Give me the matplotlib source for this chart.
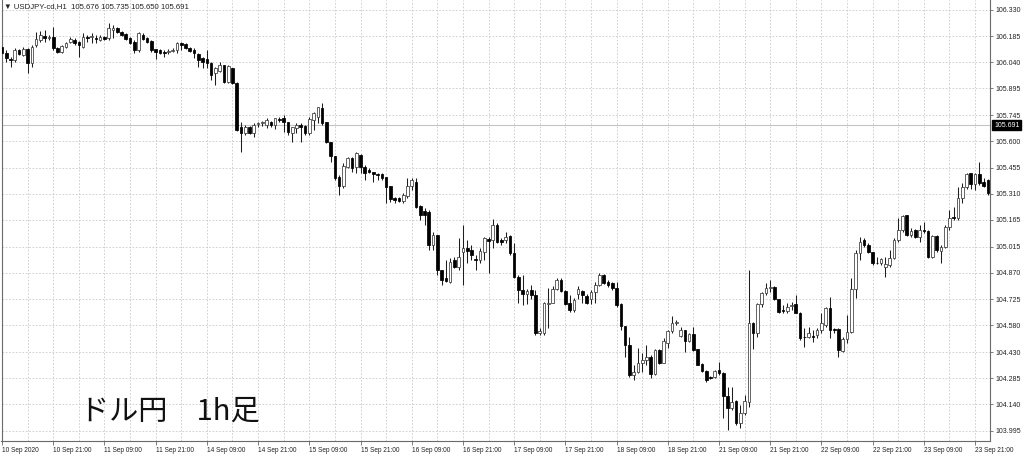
import matplotlib
matplotlib.use("Agg")
import matplotlib.pyplot as plt
import matplotlib.transforms as mtransforms

# ---------------- data (USDJPY H1) ----------------
opens = [
    106.124, 106.091, 106.058, 106.052, 106.108, 106.080, 106.113, 106.035, 106.135, 106.163,
    106.185, 106.174, 106.180, 106.119, 106.096, 106.124, 106.152, 106.163, 106.152, 106.124,
    106.180, 106.180, 106.174, 106.163, 106.180, 106.174, 106.219, 106.230, 106.207, 106.196,
    106.174, 106.152, 106.108, 106.191, 106.174, 106.157, 106.113, 106.108, 106.096, 106.096,
    106.102, 106.108, 106.146, 106.141, 106.119, 106.108, 106.085, 106.063, 106.058, 106.035,
    105.980, 105.991, 106.024, 105.930, 106.008, 105.924, 105.680, 105.647, 105.680, 105.647,
    105.697, 105.702, 105.691, 105.708, 105.691, 105.722, 105.730, 105.708, 105.647, 105.675,
    105.691, 105.686, 105.647, 105.719, 105.736, 105.786, 105.708, 105.597, 105.519, 105.403,
    105.353, 105.458, 105.508, 105.458, 105.525, 105.458, 105.442, 105.430, 105.419, 105.419,
    105.403, 105.353, 105.286, 105.286, 105.270, 105.297, 105.353, 105.375, 105.242, 105.214,
    105.208, 105.025, 105.081, 104.887, 104.842, 104.820, 104.942, 104.903, 104.986, 105.009,
    104.998, 104.948, 104.942, 104.986, 105.059, 105.053, 105.136, 105.053, 105.053, 105.075,
    104.981, 104.848, 104.774, 104.752, 104.774, 104.746, 104.537, 104.537, 104.698, 104.703,
    104.780, 104.831, 104.768, 104.702, 104.665, 104.752, 104.768, 104.741, 104.724, 104.763,
    104.803, 104.859, 104.820, 104.814, 104.787, 104.698, 104.576, 104.470, 104.304, 104.320,
    104.370, 104.387, 104.404, 104.309, 104.443, 104.370, 104.481, 104.548, 104.592, 104.520,
    104.554, 104.492, 104.531, 104.448, 104.365, 104.326, 104.293, 104.293, 104.332, 104.315,
    104.187, 104.121, 104.160, 104.037, 104.093, 104.154, 104.592, 104.537, 104.698, 104.757,
    104.787, 104.792, 104.726, 104.665, 104.659, 104.687, 104.698, 104.648, 104.515, 104.515,
    104.520, 104.526, 104.554, 104.581, 104.676, 104.557, 104.559, 104.437, 104.504, 104.543,
    104.781, 104.981, 105.053, 105.025, 104.986, 104.925, 104.925, 104.903, 104.914, 104.953,
    105.053, 105.109, 105.192, 105.081, 105.109, 105.070, 105.109, 105.103, 104.959, 105.075,
    104.992, 105.014, 105.125, 105.178, 105.175, 105.286, 105.347, 105.425, 105.364, 105.419,
    105.375, 105.386,
]
highs = [
    106.152, 106.108, 106.069, 106.119, 106.113, 106.124, 106.119, 106.135, 106.207, 106.213,
    106.219, 106.191, 106.235, 106.124, 106.135, 106.152, 106.180, 106.174, 106.157, 106.202,
    106.191, 106.202, 106.191, 106.191, 106.185, 106.257, 106.246, 106.235, 106.213, 106.202,
    106.180, 106.163, 106.207, 106.202, 106.180, 106.163, 106.113, 106.113, 106.108, 106.113,
    106.119, 106.152, 106.152, 106.146, 106.124, 106.119, 106.091, 106.069, 106.108, 106.041,
    106.013, 106.041, 106.024, 106.024, 106.008, 105.930, 105.708, 105.691, 105.686, 105.702,
    105.708, 105.713, 105.730, 105.713, 105.730, 105.736, 105.747, 105.708, 105.680, 105.702,
    105.702, 105.691, 105.736, 105.763, 105.791, 105.813, 105.708, 105.597, 105.519, 105.414,
    105.480, 105.514, 105.514, 105.541, 105.530, 105.469, 105.453, 105.430, 105.425, 105.425,
    105.403, 105.353, 105.292, 105.292, 105.314, 105.397, 105.397, 105.397, 105.247, 105.231,
    105.220, 105.097, 105.081, 104.887, 104.942, 104.953, 104.959, 105.064, 105.136, 105.053,
    105.025, 104.970, 105.009, 105.070, 105.070, 105.170, 105.147, 105.064, 105.097, 105.081,
    105.036, 104.859, 104.859, 104.780, 104.803, 104.774, 104.565, 104.709, 104.787, 104.796,
    104.842, 104.842, 104.774, 104.746, 104.731, 104.796, 104.774, 104.752, 104.774, 104.820,
    104.870, 104.864, 104.831, 104.820, 104.820, 104.703, 104.576, 104.515, 104.359, 104.454,
    104.426, 104.470, 104.415, 104.448, 104.448, 104.509, 104.554, 104.631, 104.609, 104.570,
    104.554, 104.537, 104.570, 104.448, 104.370, 104.332, 104.298, 104.332, 104.376, 104.320,
    104.237, 104.237, 104.165, 104.137, 104.193, 104.887, 104.598, 104.703, 104.763, 104.814,
    104.831, 104.798, 104.726, 104.692, 104.703, 104.709, 104.748, 104.654, 104.565, 104.570,
    104.554, 104.565, 104.648, 104.681, 104.737, 104.565, 104.565, 104.515, 104.637, 104.842,
    104.998, 105.070, 105.064, 105.036, 104.986, 104.959, 104.953, 104.959, 104.998, 105.064,
    105.175, 105.192, 105.192, 105.120, 105.114, 105.136, 105.153, 105.109, 105.081, 105.081,
    105.025, 105.136, 105.220, 105.236, 105.347, 105.369, 105.425, 105.425, 105.425, 105.486,
    105.397, 105.392,
]
lows = [
    106.080, 106.041, 106.013, 106.041, 106.080, 106.074, 105.980, 106.013, 106.124, 106.152,
    106.152, 106.163, 106.108, 106.091, 106.091, 106.119, 106.146, 106.135, 106.069, 106.119,
    106.152, 106.146, 106.146, 106.157, 106.163, 106.163, 106.174, 106.202, 106.185, 106.163,
    106.141, 106.091, 106.096, 106.163, 106.146, 106.096, 106.058, 106.085, 106.069, 106.085,
    106.096, 106.091, 106.108, 106.113, 106.096, 106.063, 106.013, 106.008, 106.008, 105.941,
    105.913, 105.985, 105.924, 105.924, 105.919, 105.658, 105.541, 105.636, 105.641, 105.625,
    105.680, 105.686, 105.675, 105.680, 105.669, 105.708, 105.652, 105.636, 105.597, 105.647,
    105.597, 105.636, 105.636, 105.664, 105.702, 105.691, 105.591, 105.486, 105.386, 105.303,
    105.342, 105.453, 105.430, 105.425, 105.425, 105.386, 105.425, 105.375, 105.386, 105.386,
    105.258, 105.264, 105.258, 105.264, 105.258, 105.286, 105.331, 105.231, 105.164, 105.136,
    104.998, 104.998, 104.859, 104.803, 104.820, 104.814, 104.898, 104.887, 104.803, 104.925,
    104.942, 104.887, 104.925, 104.942, 104.870, 105.009, 105.036, 105.025, 105.036, 104.970,
    104.842, 104.702, 104.691, 104.697, 104.724, 104.526, 104.526, 104.526, 104.565, 104.703,
    104.774, 104.763, 104.691, 104.654, 104.654, 104.724, 104.703, 104.697, 104.697, 104.703,
    104.796, 104.809, 104.792, 104.774, 104.681, 104.554, 104.404, 104.293, 104.276, 104.315,
    104.320, 104.359, 104.287, 104.304, 104.365, 104.370, 104.454, 104.537, 104.581, 104.515,
    104.432, 104.487, 104.437, 104.359, 104.320, 104.265, 104.281, 104.287, 104.304, 104.065,
    104.000, 104.110, 104.026, 104.010, 104.082, 104.126, 104.448, 104.515, 104.681, 104.746,
    104.765, 104.720, 104.648, 104.648, 104.648, 104.665, 104.648, 104.498, 104.459, 104.509,
    104.487, 104.509, 104.537, 104.570, 104.509, 104.537, 104.404, 104.432, 104.481, 104.537,
    104.731, 104.942, 105.014, 104.981, 104.914, 104.920, 104.914, 104.848, 104.903, 104.948,
    105.042, 105.097, 105.075, 105.070, 105.064, 105.042, 105.092, 104.953, 104.953, 104.986,
    104.925, 105.009, 105.109, 105.164, 105.164, 105.258, 105.336, 105.336, 105.331, 105.358,
    105.347, 105.303,
]
closes = [
    106.091, 106.063, 106.052, 106.108, 106.085, 106.113, 106.035, 106.124, 106.169, 106.191,
    106.174, 106.180, 106.119, 106.096, 106.130, 106.146, 106.169, 106.146, 106.135, 106.180,
    106.174, 106.185, 106.169, 106.180, 106.169, 106.230, 106.230, 106.207, 106.191, 106.169,
    106.146, 106.108, 106.202, 106.169, 106.152, 106.108, 106.096, 106.091, 106.091, 106.102,
    106.108, 106.146, 106.135, 106.119, 106.102, 106.091, 106.052, 106.041, 106.035, 105.969,
    106.008, 106.024, 105.930, 106.019, 105.924, 105.664, 105.647, 105.680, 105.647, 105.691,
    105.702, 105.708, 105.719, 105.691, 105.730, 105.719, 105.708, 105.652, 105.680, 105.691,
    105.680, 105.647, 105.725, 105.758, 105.791, 105.702, 105.597, 105.519, 105.397, 105.353,
    105.464, 105.508, 105.453, 105.536, 105.458, 105.425, 105.430, 105.419, 105.414, 105.397,
    105.347, 105.281, 105.275, 105.270, 105.303, 105.353, 105.386, 105.236, 105.192, 105.192,
    105.025, 105.081, 104.887, 104.831, 104.825, 104.931, 104.903, 104.959, 105.009, 104.992,
    104.970, 104.942, 104.992, 105.064, 105.048, 105.136, 105.042, 105.042, 105.070, 104.981,
    104.848, 104.774, 104.752, 104.768, 104.746, 104.537, 104.548, 104.703, 104.703, 104.780,
    104.831, 104.768, 104.697, 104.665, 104.720, 104.780, 104.746, 104.702, 104.763, 104.803,
    104.859, 104.814, 104.803, 104.787, 104.692, 104.576, 104.470, 104.304, 104.320, 104.370,
    104.387, 104.404, 104.309, 104.443, 104.370, 104.492, 104.548, 104.592, 104.598, 104.554,
    104.492, 104.531, 104.443, 104.359, 104.326, 104.276, 104.287, 104.326, 104.315, 104.187,
    104.121, 104.154, 104.037, 104.093, 104.160, 104.592, 104.537, 104.698, 104.757, 104.787,
    104.792, 104.726, 104.654, 104.659, 104.681, 104.692, 104.648, 104.509, 104.512, 104.537,
    104.515, 104.554, 104.592, 104.676, 104.554, 104.554, 104.443, 104.504, 104.543, 104.781,
    104.981, 105.042, 105.025, 104.986, 104.925, 104.923, 104.948, 104.920, 104.953, 105.053,
    105.109, 105.186, 105.081, 105.103, 105.070, 105.109, 105.103, 104.959, 105.075, 104.998,
    105.014, 105.125, 105.175, 105.175, 105.286, 105.347, 105.419, 105.364, 105.419, 105.369,
    105.353, 105.314,
]

time_labels = [
    "10 Sep 2020", "10 Sep 21:00", "11 Sep 09:00", "11 Sep 21:00", "14 Sep 09:00",
    "14 Sep 21:00", "15 Sep 09:00", "15 Sep 21:00", "16 Sep 09:00", "16 Sep 21:00",
    "17 Sep 09:00", "17 Sep 21:00", "18 Sep 09:00", "18 Sep 21:00", "21 Sep 09:00",
    "21 Sep 21:00", "22 Sep 09:00", "22 Sep 21:00", "23 Sep 09:00", "23 Sep 21:00",
]
price_tick_labels = [
    "106.330", "106.185", "106.040", "105.895", "105.745", "105.600", "105.455",
    "105.310", "105.165", "105.015", "104.870", "104.725", "104.580", "104.430",
    "104.285", "104.140", "103.995",
]
header_text = "\u25bc USDJPY-cd,H1  105.676 105.735 105.650 105.691"
current_price = 105.691
caption = "ドル円\u30001h足"

# ---------------- layout ----------------
W, H = 1024, 454
fig = plt.figure(figsize=(W / 100, H / 100), dpi=100)
fig.patch.set_facecolor("white")
ax = fig.add_axes([1.5 / W, 13 / H, 988.5 / W, 441 / H])
ax.set_facecolor("white")

n = len(opens)
idx = list(range(n))
ax.set_xlim(-0.12, n - 0.5)
ax.set_ylim(103.937, 106.385)

grid_kw = dict(color="#c9c9c9", lw=0.6, ls=(0, (2, 2)), zorder=0)
price_ticks = [float(s) for s in price_tick_labels]
for yv in price_ticks:
    ax.axhline(yv, **grid_kw)
bars_per_label = 12
for i in range(0, n, bars_per_label // 2):
    ax.axvline(i, **grid_kw)

# current price line
ax.axhline(current_price, color="#c4c4c4", lw=0.8, zorder=1)

# candles
up = [c > o for o, c in zip(opens, closes)]
ax.vlines(idx, lows, highs, color="#1e1e1e", lw=0.75, zorder=2)
bottoms = [min(o, c) for o, c in zip(opens, closes)]
heights = [max(abs(c - o), 0.0018) for o, c in zip(opens, closes)]
ax.bar(idx, heights, bottom=bottoms, width=0.62,
       color=["white" if u else "black" for u in up],
       edgecolor=["#3a3a3a" if u else "black" for u in up],
       linewidth=0.55, zorder=3)

# axes styling
for side in ("left", "bottom", "right"):
    ax.spines[side].set_color("#6a6a6a")
    ax.spines[side].set_linewidth(0.8)
ax.spines["top"].set_visible(False)

ax.yaxis.tick_right()
ax.set_yticks(price_ticks)
ax.set_yticklabels(price_tick_labels)
ax.tick_params(axis="y", length=2.5, width=0.6, color="#666666", pad=1.5,
               labelsize=5.0, labelcolor="#222222")
for t in ax.get_yticklabels():
    t.set_family("Liberation Sans")

ax.set_xticks([bars_per_label * k for k in range(len(time_labels))])
ax.set_xticklabels(time_labels)
ax.tick_params(axis="x", length=3, width=0.6, color="#666666", pad=1.5,
               labelsize=4.7, labelcolor="#222222")
for t in ax.get_xticklabels():
    t.set_family("Liberation Sans")
    t.set_horizontalalignment("left")

# current price label box
trans = mtransforms.blended_transform_factory(ax.transAxes, ax.transData)
ax.text(1.0 + 4 / 988.5, current_price, f"{current_price:.3f}", transform=trans,
        ha="left", va="center", fontsize=5.0, family="Liberation Sans", color="white",
        bbox=dict(boxstyle="square,pad=0.22", fc="black", ec="black"), zorder=5,
        clip_on=False)

# header & caption
fig.text(4 / W, 1 - 7 / H, header_text, fontsize=5.6, va="center", ha="left",
         family=["Liberation Sans", "DejaVu Sans"], color="#222222")
fig.text(80 / W, (H - 420) / H, caption, fontsize=21, va="baseline", ha="left",
         family=["Noto Sans CJK JP", "DejaVu Sans"], color="#111111")

fig.savefig("out.png", dpi=100, facecolor="white")
